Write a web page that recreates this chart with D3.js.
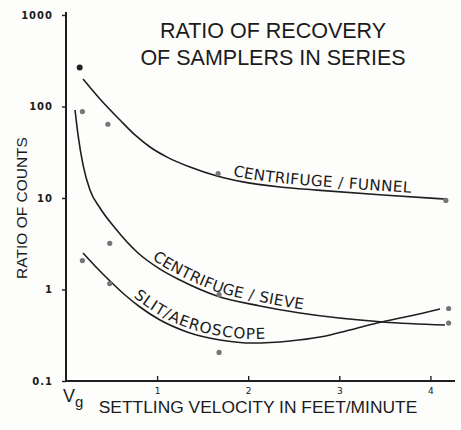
<!DOCTYPE html>
<html>
<head>
<meta charset="utf-8">
<script src="https://cdn.jsdelivr.net/npm/d3@7"></script>
<style>
  html, body { margin: 0; padding: 0; background: #fdfdfc; }
  svg { display: block; }
  text { fill: #1b1b1b; }
</style>
</head>
<body>
<svg id="chart" width="461" height="430"></svg>
<script>
// Observed ratios (settling velocity in ft/min, ratio of counts)
const funnelVel   = [0.15, 0.46, 1.67, 4.17];
const funnelRatio = [267, 64, 18.5, 9.4];
const sieveVel    = [0.18, 0.48, 1.68, 4.20];
const sieveRatio  = [88, 3.2, 0.88, 0.43];
const slitVel     = [0.18, 0.48, 1.68, 4.20];
const slitRatio   = [2.07, 1.16, 0.205, 0.62];

// Hand-fitted trend curves through each series
const funnelFitVel   = [0.187, 0.373, 0.593, 0.757, 0.922, 1.109, 1.361, 1.658, 1.943, 2.349, 2.755, 3.48, 4.16];
const funnelFitRatio = [200, 121, 71.1, 48.9, 36.1, 28.0, 21.8, 17.4, 15.0, 13.2, 12.2, 10.8, 9.75];
const sieveFitVel    = [0.099, 0.132, 0.187, 0.263, 0.373, 0.538, 0.779, 1.032, 1.251, 1.658, 2.13, 2.569, 3.48, 4.16];
const sieveFitRatio  = [91.6, 48.9, 23.0, 12.2, 7.78, 4.70, 2.57, 1.67, 1.27, 0.849, 0.661, 0.553, 0.442, 0.409];
const slitFitVel     = [0.187, 0.340, 0.483, 0.648, 0.812, 1.032, 1.328, 1.690, 2.053, 2.459, 2.788, 3.117, 3.414, 3.776, 4.105];
const slitFitRatio   = [2.51, 1.72, 1.24, 0.871, 0.644, 0.464, 0.344, 0.281, 0.260, 0.274, 0.303, 0.361, 0.431, 0.513, 0.612];

// Axis ticks
const xTicks = [1, 2, 3, 4];
const xTickLabels = ["1", "2", "3", "4"];
const yTicks = [0.1, 1, 10, 100, 1000];
const yTickLabels = ["0.1", "1", "10", "100", "1000"];

const titleLines = ["RATIO OF RECOVERY", "OF SAMPLERS IN SERIES"];
const curveLabels = ["CENTRIFUGE / FUNNEL", "CENTRIFUGE / SIEVE", "SLIT/AEROSCOPE"];
const labelStartVel = [1.82, 0.92, 0.71];
const labelSpacing = [0.4, 0.4, 1.1];

const svg = d3.select("#chart");
const x = d3.scaleLinear().domain([0, 4.27]).range([66, 455]);
const y = d3.scaleLog().domain([0.1, 1000]).range([381, 15]);

const ink = "#1e1e1e";

// Axes
const yAxis = d3.axisLeft(y)
  .tickValues(yTicks)
  .tickFormat((d, i) => yTickLabels[i])
  .tickSizeInner(4).tickSizeOuter(0).tickPadding(9);
const gy = svg.append("g").attr("transform", `translate(${x(0)},0)`).call(yAxis);
gy.select(".domain").attr("stroke", ink).attr("stroke-width", 2)
  .attr("d", `M0,${y(0.1)}V12`);
gy.selectAll(".tick line").attr("stroke", ink).attr("stroke-width", 1.4);
gy.selectAll(".tick text")
  .attr("font-family", "'DejaVu Sans', sans-serif")
  .attr("font-weight", "bold").attr("font-size", 10)
  .attr("letter-spacing", 1).attr("fill", ink);

const xAxis = d3.axisBottom(x)
  .tickValues(xTicks)
  .tickFormat((d, i) => xTickLabels[i])
  .tickSizeInner(-5).tickSizeOuter(0).tickPadding(7);
const gx = svg.append("g").attr("transform", `translate(0,${y(0.1)})`).call(xAxis);
gx.select(".domain").attr("stroke", ink).attr("stroke-width", 2)
  .attr("d", `M${x(0)},0H${x(4.27)}`);
gx.selectAll(".tick line").attr("stroke", ink).attr("stroke-width", 1.4);
gx.selectAll(".tick text")
  .attr("font-family", "'DejaVu Sans', sans-serif")
  .attr("font-size", 9).attr("fill", ink);

// V_g marker at the origin
const vg = svg.append("text")
  .attr("x", x(0) - 3).attr("y", 402)
  .attr("font-family", "'Liberation Sans', Arial, sans-serif")
  .attr("font-size", 18);
vg.append("tspan").text("V");
vg.append("tspan").attr("font-size", 15).attr("dy", 5).text("g");

// Titles and axis labels
svg.append("g").selectAll("text").data(titleLines).join("text")
  .attr("x", 273).attr("y", (d, i) => 38 + i * 27)
  .attr("text-anchor", "middle")
  .attr("font-family", "'Liberation Sans', Arial, sans-serif")
  .attr("font-size", 21.5)
  .text(d => d);

svg.append("text")
  .attr("transform", "translate(27,208) rotate(-90)")
  .attr("text-anchor", "middle")
  .attr("font-family", "'Liberation Sans', Arial, sans-serif")
  .attr("font-size", 15.5)
  .text("RATIO OF COUNTS");

svg.append("text")
  .attr("x", 258).attr("y", 413)
  .attr("text-anchor", "middle")
  .attr("font-family", "'Liberation Sans', Arial, sans-serif")
  .attr("font-size", 17.4)
  .text("SETTLING VELOCITY IN FEET/MINUTE");

// Fitted curves
const line = d3.line()
  .x(d => x(d[0])).y(d => y(d[1]))
  .curve(d3.curveMonotoneX);

const fits = [
  d3.zip(funnelFitVel, funnelFitRatio),
  d3.zip(sieveFitVel, sieveFitRatio),
  d3.zip(slitFitVel, slitFitRatio)
];

const paths = svg.append("g").selectAll("path").data(fits).join("path")
  .attr("id", (d, i) => "fit" + i)
  .attr("d", line)
  .attr("fill", "none")
  .attr("stroke", ink)
  .attr("stroke-width", 1.6);

// Labels that ride along each curve
function offsetAtX(pathNode, px) {
  let lo = 0, hi = pathNode.getTotalLength();
  for (let k = 0; k < 40; k++) {
    const mid = (lo + hi) / 2;
    if (pathNode.getPointAtLength(mid).x < px) lo = mid; else hi = mid;
  }
  return lo;
}

paths.each(function (d, i) {
  const t = svg.append("text")
    .attr("font-family", "'DejaVu Sans', sans-serif")
    .attr("font-size", 15.2)
    .attr("letter-spacing", labelSpacing[i])
    .attr("dy", -4);
  t.append("textPath")
    .attr("href", "#fit" + i)
    .attr("startOffset", offsetAtX(this, x(labelStartVel[i])))
    .text(curveLabels[i]);
});

// Observation points
const pts = [
  ...d3.zip(funnelVel, funnelRatio).map((p, i) => ({ p, dark: i === 0 })),
  ...d3.zip(sieveVel, sieveRatio).map(p => ({ p, dark: false })),
  ...d3.zip(slitVel, slitRatio).map(p => ({ p, dark: false }))
];
svg.append("g").selectAll("circle").data(pts).join("circle")
  .attr("cx", d => x(d.p[0])).attr("cy", d => y(d.p[1]))
  .attr("r", d => d.dark ? 3 : 2.6)
  .attr("fill", d => d.dark ? "#222" : "#767676");
</script>
</body>
</html>
